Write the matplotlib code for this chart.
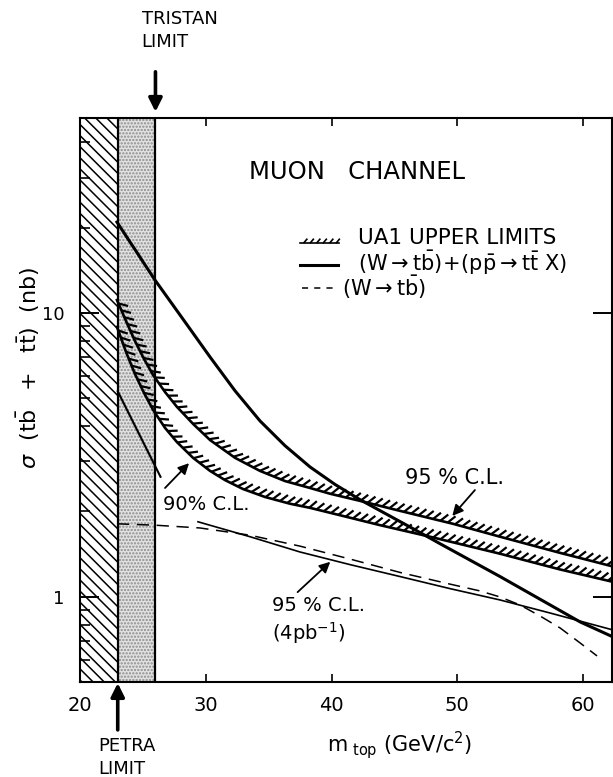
import numpy as np
import matplotlib
matplotlib.use("Agg")
import matplotlib.pyplot as plt
from matplotlib.collections import LineCollection

plt.rcParams['font.family'] = ['DejaVu Sans']
plt.rcParams['mathtext.fontset'] = 'dejavusans'
plt.rcParams['hatch.linewidth'] = 1.1

# top mass (GeV/c^2) vs cross section (nb)
theory_m = [22.94, 25.96, 28.35, 30.34, 32.33, 34.31, 36.30, 38.29, 40.28, 42.27, 46.48, 48.63, 53.40, 59.76, 62.39]
theory_s = [20.9, 13.07, 9.30, 7.00, 5.32, 4.17, 3.41, 2.87, 2.49, 2.20, 1.74, 1.54, 1.18, 0.817, 0.723]

ul95_m = [22.94, 23.66, 24.37, 25.09, 25.81, 26.76, 27.71, 28.99, 30.34, 32.33, 34.31, 36.30, 38.29, 39.88, 42.27, 45.45, 49.66, 53.40, 58.17, 62.39]
ul95_s = [11.11, 9.37, 7.97, 6.89, 6.05, 5.27, 4.67, 4.07, 3.57, 3.09, 2.78, 2.56, 2.42, 2.31, 2.18, 2.01, 1.81, 1.63, 1.43, 1.28]

ul90_m = [22.94, 23.66, 24.37, 25.09, 25.81, 26.76, 27.71, 28.99, 30.34, 31.53, 32.96, 34.71, 36.70, 38.29, 40.68, 43.86, 47.83, 53.40, 58.17, 62.39]
ul90_s = [8.93, 7.29, 6.10, 5.23, 4.56, 3.94, 3.51, 3.09, 2.78, 2.58, 2.40, 2.25, 2.13, 2.06, 1.94, 1.79, 1.63, 1.42, 1.25, 1.13]

low90_m = [23.0, 26.4]
low90_s = [5.3, 2.65]

ul4pb_m = [29.38, 33.52, 37.50, 41.47, 45.45, 49.42, 53.40, 57.38, 62.39]
ul4pb_s = [1.84, 1.63, 1.44, 1.30, 1.18, 1.07, 0.976, 0.878, 0.765]

wtb_m = [22.94, 25.96, 29.54, 33.52, 37.50, 41.47, 45.45, 49.42, 51.81, 53.40, 54.99, 56.58, 58.17, 59.76, 61.11]
wtb_s = [1.81, 1.79, 1.75, 1.65, 1.51, 1.36, 1.22, 1.11, 1.05, 1.00, 0.937, 0.857, 0.778, 0.689, 0.620]

petra_limit = 23.0
tristan_limit = 26.0

x_ticks = [20, 30, 40, 50, 60]
y_ticks = [1, 10]


def hatch_ticks(ax, xs, ys, trans, spacing=7.5, length=10.0, angle=38, lw=1.6):
    # short slanted strokes on the upper side of a limit curve, laid out in pixels
    pts = trans.transform(np.column_stack([xs, ys]))
    seg = np.diff(pts, axis=0)
    seglen = np.hypot(seg[:, 0], seg[:, 1])
    s = np.concatenate([[0], np.cumsum(seglen)])
    ss = np.arange(spacing / 2, s[-1], spacing)
    idx = np.clip(np.searchsorted(s, ss) - 1, 0, len(seg) - 1)
    base = np.column_stack([np.interp(ss, s, pts[:, 0]), np.interp(ss, s, pts[:, 1])])
    t = seg[idx] / seglen[idx][:, None]
    n = np.column_stack([-t[:, 1], t[:, 0]])
    a = np.radians(angle)
    d = n * np.cos(a) + t * np.sin(a)
    tips = base + length * d
    inv = trans.inverted()
    segs = np.stack([inv.transform(base), inv.transform(tips)], axis=1)
    ax.add_collection(LineCollection(segs, colors='black', linewidths=lw,
                                     transform=trans, clip_on=(trans is ax.transData)))


fig = plt.figure(figsize=(6.13, 7.77), dpi=100)
ax = fig.add_axes([0.1305, 0.1223, 0.8679, 0.7258])
ax.set_yscale('log')
ax.set_xlim(20, 62.3)
ax.set_ylim(0.502, 48.6)

# excluded regions
ax.axvspan(20, petra_limit, facecolor='white', edgecolor='black', hatch='\\\\\\', lw=0)
ax.axvspan(petra_limit, tristan_limit, facecolor='#e2e2e2', edgecolor='#8c8c8c', hatch='.....', lw=0)
ax.axvline(petra_limit, color='black', lw=1.6)
ax.axvline(tristan_limit, color='black', lw=1.6)

# UA1 upper limits
ax.plot(ul95_m, ul95_s, color='black', lw=1.9)
ax.plot(ul90_m, ul90_s, color='black', lw=1.9)
ax.plot(low90_m, low90_s, color='black', lw=1.5)
hatch_ticks(ax, ul95_m, ul95_s, ax.transData)
hatch_ticks(ax, ul90_m, ul90_s, ax.transData)

# predictions and 4 pb^-1 limit
ax.plot(theory_m, theory_s, color='black', lw=2.2)
ax.plot(ul4pb_m, ul4pb_s, color='black', lw=1.2)
ax.plot(wtb_m, wtb_s, color='black', lw=1.1, linestyle=(0, (8, 5)))

# axes styling
for sp in ax.spines.values():
    sp.set_linewidth(1.5)
ax.set_xticks(x_ticks)
ax.set_xticklabels([str(v) for v in x_ticks])
ax.set_yticks(y_ticks)
ax.set_yticklabels(['1', '10'])
ax.yaxis.set_minor_locator(matplotlib.ticker.LogLocator(subs=np.arange(2, 10)))
ax.yaxis.set_minor_formatter(matplotlib.ticker.NullFormatter())
ax.tick_params(axis='x', which='major', direction='in', top=True, length=6, width=1.2,
               labelsize=14, pad=10)
ax.tick_params(axis='y', which='major', direction='in', right=True, length=14, width=1.4,
               labelsize=13, pad=11)
ax.tick_params(axis='y', which='minor', direction='in', right=False, length=7, width=1.2)

ax.text(-0.098, 0.557,
        r'$\sigma\ \ (\mathrm{t}\bar{\mathrm{b}}\ \ +\ \ \mathrm{t}\bar{\mathrm{t}})\ \ (\mathrm{nb})$',
        transform=ax.transAxes, rotation=90, ha='center', va='center', fontsize=16)
ax.text(0.60, -0.112, r'$\mathrm{m}_{\ \mathrm{top}}\ (\mathrm{GeV/c^2})$',
        transform=ax.transAxes, ha='center', va='center', fontsize=15)

ax.text(0.521, 0.904, 'MUON   CHANNEL', transform=ax.transAxes, ha='center', va='center', fontsize=17.5)

# legend
ax.plot([0.414, 0.487], [0.778, 0.778], color='black', lw=1.2, transform=ax.transAxes)
hatch_ticks(ax, [0.414, 0.487], [0.778, 0.778], ax.transAxes, spacing=6.5, length=6, angle=40, lw=1.2)
ax.text(0.523, 0.787, 'UA1 UPPER LIMITS', transform=ax.transAxes, ha='left', va='center', fontsize=15.5)
ax.plot([0.414, 0.485], [0.740, 0.740], color='black', lw=2.2, transform=ax.transAxes)
ax.text(0.523, 0.743,
        r'$(\mathrm{W}\rightarrow\mathrm{t}\bar{\mathrm{b}})\!+\!(\mathrm{p}\bar{\mathrm{p}}\rightarrow\mathrm{t}\bar{\mathrm{t}}\ \mathrm{X})$',
        transform=ax.transAxes, ha='left', va='center', fontsize=15)
ax.plot([0.418, 0.485], [0.699, 0.699], color='black', lw=1.1, linestyle=(0, (4, 4)), transform=ax.transAxes)
ax.text(0.492, 0.699, r'$(\mathrm{W}\rightarrow\mathrm{t}\bar{\mathrm{b}})$',
        transform=ax.transAxes, ha='left', va='center', fontsize=15)

# curve labels
arrow = dict(arrowstyle='-|>', color='black', lw=1.3, mutation_scale=16, shrinkA=0, shrinkB=0)
ax.annotate('', xy=(49.6, 1.93), xytext=(51.4, 2.38), arrowprops=arrow)
ax.text(49.8, 2.62, '95 % C.L.', ha='center', va='center', fontsize=15)
ax.annotate('', xy=(28.67, 2.96), xytext=(26.76, 2.42), arrowprops=arrow)
ax.text(30.0, 2.12, '90% C.L.', ha='center', va='center', fontsize=14)
ax.annotate('', xy=(39.9, 1.33), xytext=(37.3, 1.04), arrowprops=arrow)
ax.text(35.27, 0.93, '95 % C.L.', ha='left', va='center', fontsize=14)
ax.text(35.27, 0.747, r'$(\mathrm{4pb}^{-1})$', ha='left', va='center', fontsize=14)

# collider limits
big = dict(arrowstyle='-|>', color='black', lw=2.6, mutation_scale=20, shrinkA=0, shrinkB=0)
xt = ax.get_xaxis_transform()
ax.annotate('', xy=(petra_limit, -0.002), xycoords=xt, xytext=(petra_limit, -0.085), textcoords=xt,
            arrowprops=big, annotation_clip=False)
ax.text(21.43, -0.097, 'PETRA\nLIMIT', transform=xt, ha='left', va='top', fontsize=13, linespacing=1.35)
ax.annotate('', xy=(tristan_limit, 1.011), xycoords=xt, xytext=(tristan_limit, 1.082), textcoords=xt,
            arrowprops=big, annotation_clip=False)
ax.text(24.9, 1.192, 'TRISTAN\nLIMIT', transform=xt, ha='left', va='top', fontsize=13, linespacing=1.35)

fig.savefig('out.png', dpi=100)
